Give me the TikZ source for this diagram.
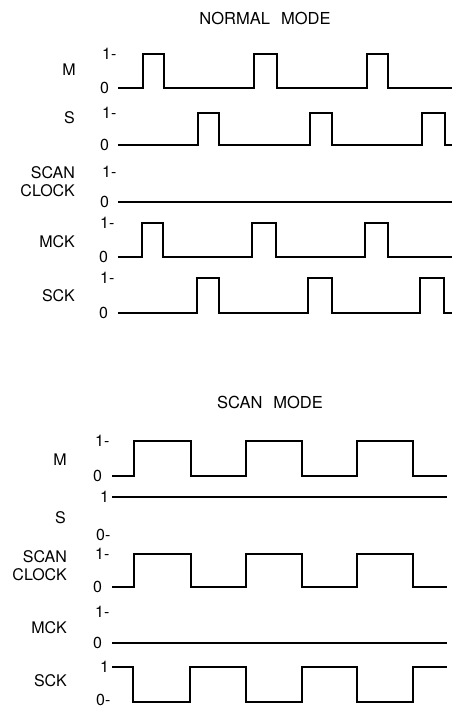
\documentclass[tikz,border=0pt]{standalone}
\usepackage{fontspec}
\setmainfont{TeX Gyre Heros}
\begin{document}
\begin{tikzpicture}[x=1pt,y=-1pt,
  wave/.style={line width=2.6pt, line join=miter, line cap=butt},
  flat/.style={line width=2.2pt},
  lbl/.style={anchor=east, inner sep=0pt, font=\fontsize{16}{18}\selectfont, align=right},
  lvl/.style={anchor=west, inner sep=0pt, font=\fontsize{16}{16}\selectfont},
  ttl/.style={inner sep=0pt, font=\fontsize{16.5}{16.5}\selectfont}]
\useasboundingbox (0,0) rectangle (452,709);

% ---------------- NORMAL MODE ----------------
\node[ttl] (t1) at (265,18) {NORMAL\hspace{11pt}MODE};

\node[lbl] (nM) at (76,70) {M};
\node[lbl] (nS) at (75,118) {S};
\node[lbl] (nSC) at (75,182) {SCAN\\CLOCK};
\node[lbl] (nMCK) at (75,242) {MCK};
\node[lbl] (nSCK) at (75,296) {SCK};

\node[lvl] (nM1) at (102,54) {1-};
\node[lvl] (nM0) at (100,88) {0};
\node[lvl] (nS1) at (102,113) {1-};
\node[lvl] (nS0) at (100,145) {0};
\node[lvl] (nSC1) at (102,172) {1-};
\node[lvl] (nSC0) at (100,202) {0};
\node[lvl] (nMCK1) at (100,223) {1-};
\node[lvl] (nMCK0) at (99,257) {0};
\node[lvl] (nSCK1) at (100,278) {1-};
\node[lvl] (nSCK0) at (99,313) {0};

\draw[wave] (118,88) -- (143,88) -- (143,54) -- (164,54) -- (164,88) -- (254,88) -- (254,54) -- (277,54) -- (277,88) -- (367,88) -- (367,54) -- (388,54) -- (388,88) -- (452,88);
\draw[wave] (118,145) -- (198,145) -- (198,113) -- (219,113) -- (219,145) -- (310,145) -- (310,113) -- (332,113) -- (332,145) -- (422,145) -- (422,113) -- (445,113) -- (445,145) -- (452,145);
\draw[flat] (118,202) -- (452,202);
\draw[wave] (118,257) -- (142,257) -- (142,223) -- (163,223) -- (163,257) -- (252,257) -- (252,223) -- (276,223) -- (276,257) -- (365,257) -- (365,223) -- (388,223) -- (388,257) -- (452,257);
\draw[wave] (118,313) -- (197,313) -- (197,278) -- (219,278) -- (219,313) -- (308,313) -- (308,278) -- (332,278) -- (332,313) -- (420,313) -- (420,278) -- (444,278) -- (444,313) -- (452,313);

% ---------------- SCAN MODE ----------------
\node[ttl] (t2) at (270,402) {SCAN\hspace{11pt}MODE};

\node[lbl] (sM) at (67,460) {M};
\node[lbl] (sS) at (66,518) {S};
\node[lbl] (sSC) at (67,566) {SCAN\\CLOCK};
\node[lbl] (sMCK) at (67,628) {MCK};
\node[lbl] (sSCK) at (67,681) {SCK};

\node[lvl] (sM1) at (95,441) {1-};
\node[lvl] (sM0) at (93,476) {0};
\node[lvl] (sS1) at (100,497) {1};
\node[lvl] (sS0) at (96,535) {0-};
\node[lvl] (sSC1) at (95,554) {1-};
\node[lvl] (sSC0) at (93,587) {0};
\node[lvl] (sMCK1) at (95,612) {1-};
\node[lvl] (sMCK0) at (93,643) {0};
\node[lvl] (sSCK1) at (100,667) {1};
\node[lvl] (sSCK0) at (96,700) {0-};

\draw[wave] (112,476) -- (134,476) -- (134,441) -- (191,441) -- (191,476) -- (246,476) -- (246,441) -- (302,441) -- (302,476) -- (357,476) -- (357,441) -- (413,441) -- (413,476) -- (447,476);
\draw[flat] (112,497) -- (447,497);
\draw[wave] (112,587) -- (134,587) -- (134,554) -- (191,554) -- (191,587) -- (246,587) -- (246,554) -- (302,554) -- (302,587) -- (357,587) -- (357,554) -- (413,554) -- (413,587) -- (447,587);
\draw[flat] (112,643) -- (447,643);
\draw[wave] (112,667) -- (133,667) -- (133,702) -- (190,702) -- (190,667) -- (246,667) -- (246,702) -- (302,702) -- (302,667) -- (357,667) -- (357,702) -- (413,702) -- (413,667) -- (447,667);
\end{tikzpicture}
\end{document}
